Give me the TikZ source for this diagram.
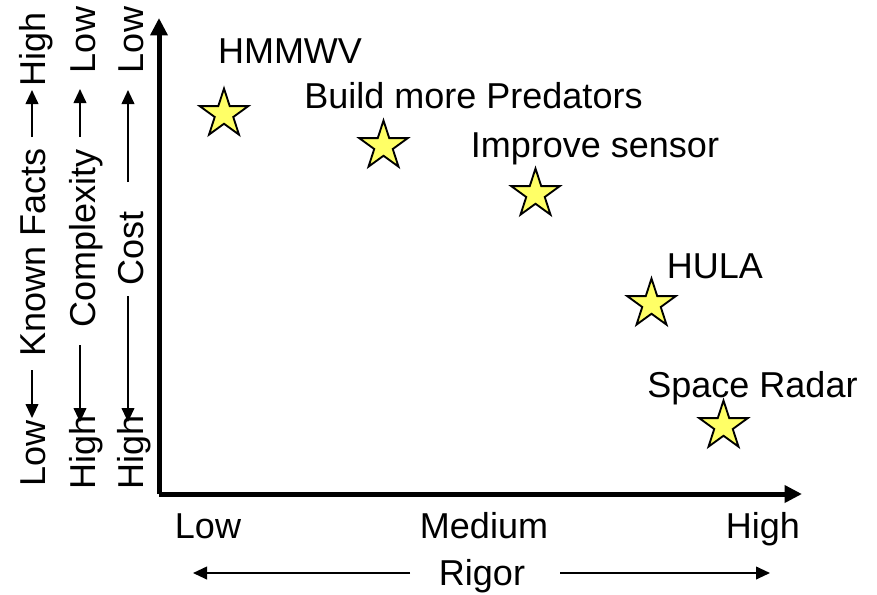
\documentclass[tikz,border=0pt]{standalone}
\usepackage{fontspec}
\setmainfont{Liberation Sans}
\usetikzlibrary{shapes.geometric,arrows.meta}
\definecolor{staryellow}{RGB}{255,255,102}
\tikzset{
  lbl/.style={font=\fontsize{27pt}{30pt}\selectfont, inner sep=0pt, anchor=base},
  vlbl/.style={lbl, rotate=90},
  starmark/.style={star, star points=5, star point ratio=2.618, minimum size=38.25pt, inner sep=0pt,
    draw=black, line width=1.4pt, fill=staryellow},
  axisline/.style={line width=3.75pt, line join=miter, -{Triangle[length=13pt,width=12.5pt]}},
  smallarrow/.style={line width=1.4pt, -{Triangle[length=10.5pt,width=9.5pt]}},
}
\begin{document}
\begin{tikzpicture}[x=0.75pt,y=-0.75pt]
\useasboundingbox (0,0) rectangle (877,594);
% axes
\coordinate (origin) at (159,494);
\coordinate (ytop) at (159,18);
\coordinate (xend) at (802,494);
\draw[axisline] (origin) -- (xend);
\draw[axisline] (origin) -- (ytop);
% x labels
\node[lbl] (xlow) at (208,538) {Low};
\node[lbl] (xmed) at (484,538) {Medium};
\node[lbl] (xhigh) at (763,538) {High};
\node[lbl] (rigor) at (482,585) {Rigor};
\coordinate (rl1) at (410,573); \coordinate (rl2) at (193,573);
\coordinate (rr1) at (560,573); \coordinate (rr2) at (770,573);
\draw[smallarrow] (rl1) -- (rl2);
\draw[smallarrow] (rr1) -- (rr2);
% column 1
\node[vlbl] (c1high) at (45,49) {High};
\node[vlbl] (c1mid) at (45,252) {Known Facts};
\node[vlbl] (c1low) at (45,453) {Low};
\coordinate (c1a) at (32,137); \coordinate (c1b) at (32,90);
\coordinate (c1c) at (32,370); \coordinate (c1d) at (32,418);
\draw[smallarrow] (c1a) -- (c1b);
\draw[smallarrow] (c1c) -- (c1d);
% column 2
\node[vlbl] (c2low) at (95,40) {Low};
\node[vlbl] (c2mid) at (95,238) {Complexity};
\node[vlbl] (c2high) at (95,452) {High};
\coordinate (c2a) at (80,137); \coordinate (c2b) at (80,89);
\coordinate (c2c) at (80,345); \coordinate (c2d) at (80,422);
\draw[smallarrow] (c2a) -- (c2b);
\draw[smallarrow] (c2c) -- (c2d);
% column 3
\node[vlbl] (c3low) at (143,40) {Low};
\node[vlbl] (c3mid) at (143,248) {Cost};
\node[vlbl] (c3high) at (143,452) {High};
\coordinate (c3a) at (128,182); \coordinate (c3b) at (128,90);
\coordinate (c3c) at (128,296); \coordinate (c3d) at (128,422);
\draw[smallarrow] (c3a) -- (c3b);
\draw[smallarrow] (c3c) -- (c3d);
% stars
\node[starmark] (s1) at (224,114) {};
\node[starmark] (s2) at (383.5,146) {};
\node[starmark] (s3) at (535.5,194) {};
\node[starmark] (s4) at (651.5,304) {};
\node[starmark] (s5) at (723.5,426) {};
% star labels
\node[lbl] (t1) at (290,63) {HMMWV};
\node[lbl] (t2) at (473.5,108) {Build more Predators};
\node[lbl] (t3) at (595,157) {Improve sensor};
\node[lbl] (t4) at (715,278) {HULA};
\node[lbl] (t5) at (752.5,397) {Space Radar};
\end{tikzpicture}
\end{document}
